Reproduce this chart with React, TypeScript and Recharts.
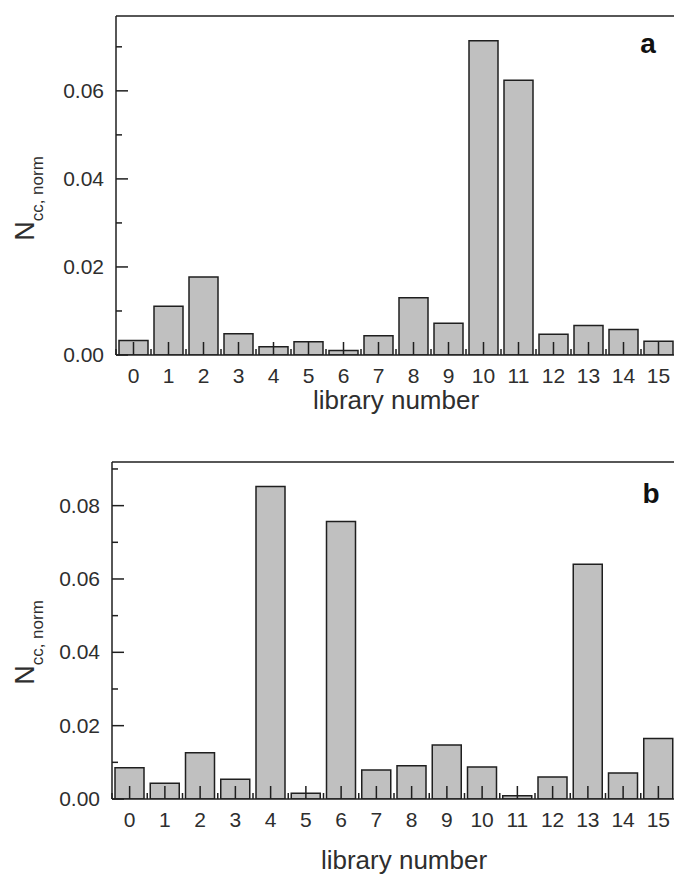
import React from 'react';
import { BarChart, Bar, XAxis, YAxis, ReferenceLine } from 'recharts';

const categories = ['0', '1', '2', '3', '4', '5', '6', '7', '8', '9', '10', '11', '12', '13', '14', '15'];
const valuesA = [0.0033, 0.0111, 0.0177, 0.0048, 0.0019, 0.003, 0.001, 0.0044, 0.013, 0.0072, 0.0714, 0.0624, 0.0047, 0.0067, 0.0058, 0.0031];
const valuesB = [0.0085, 0.0043, 0.0126, 0.0054, 0.0852, 0.0016, 0.0757, 0.0079, 0.0091, 0.0147, 0.0087, 0.0009, 0.006, 0.064, 0.0071, 0.0165];
const yTicksA = [0, 0.01, 0.02, 0.03, 0.04, 0.05, 0.06, 0.07];
const yMajorA = [0, 0.02, 0.04, 0.06];
const yMaxA = 0.077;
const yTicksB = [0, 0.01, 0.02, 0.03, 0.04, 0.05, 0.06, 0.07, 0.08, 0.09];
const yMajorB = [0, 0.02, 0.04, 0.06, 0.08];
const yMaxB = 0.0919;
const xTitle = 'library number';
const yTitleMain = 'N';
const yTitleSub = 'cc, norm';
const panelA = 'a';
const panelB = 'b';

const dataA = categories.map((c, i) => ({ lib: c, value: valuesA[i] }));
const dataB = categories.map((c, i) => ({ lib: c, value: valuesB[i] }));

const FONT = '"Liberation Sans", Arial, Helvetica, sans-serif';
const INK = '#1f1f1f';
const TEXT = '#2e2e2e';
const BAR_FILL = '#c0c0c0';

function makeYTick(major: number[]) {
  return (props: any) => {
    const { x, y, payload } = props;
    const isMajor = major.some((m) => Math.abs(m - payload.value) < 1e-9);
    return (
      <g>
        <line x1={x} y1={y} x2={x + (isMajor ? 12 : 6)} y2={y} stroke={INK} strokeWidth={1.5} />
        {isMajor && (
          <text x={x - 12} y={y} dy={7} textAnchor="end" fontSize={21} fill={TEXT} fontFamily={FONT}>
            {Number(payload.value).toFixed(2)}
          </text>
        )}
      </g>
    );
  };
}

const XTick = (props: any) => {
  const { x, y, payload, index, visibleTicksCount } = props;
  const half = payload && payload.offset ? payload.offset : 17.5;
  const last = visibleTicksCount ? index === visibleTicksCount - 1 : index === categories.length - 1;
  return (
    <g>
      <line x1={x} y1={y} x2={x} y2={y - 13} stroke={INK} strokeWidth={1.5} />
      <line x1={x - half} y1={y} x2={x - half} y2={y - 6} stroke={INK} strokeWidth={1.5} />
      {last && <line x1={x + half} y1={y} x2={x + half} y2={y - 6} stroke={INK} strokeWidth={1.5} />}
      <text x={x} y={y + 28} textAnchor="middle" fontSize={21} fill={TEXT} fontFamily={FONT}>
        {payload.value}
      </text>
    </g>
  );
};

function makeXTitle(dy: number, dx: number) {
  return (p: any) => {
    const vb = p.viewBox || {};
    return (
      <text x={vb.x + vb.width / 2 + dx} y={vb.y + dy} textAnchor="middle" fontSize={26} fill={TEXT} fontFamily={FONT}>
        {xTitle}
      </text>
    );
  };
}

function makePanel(letter: string, dx: number, dy: number) {
  return (p: any) => {
    const vb = p.viewBox || {};
    return (
      <text x={vb.x + vb.width - dx} y={vb.y + dy} textAnchor="middle" fontSize={28} fontWeight="bold" fill="#111" fontFamily={FONT}>
        {letter}
      </text>
    );
  };
}

function makeYTitle(dx: number, dy: number) {
  return (p: any) => {
    const vb = p.viewBox || {};
    const cx = vb.x + dx;
    const cy = vb.y + vb.height / 2 + dy;
    return (
      <text x={cx} y={cy} transform={`rotate(-90, ${cx}, ${cy})`} textAnchor="middle" fill={TEXT} fontFamily={FONT}>
        <tspan fontSize={27}>{yTitleMain}</tspan>
        <tspan fontSize={17} dy={9}>{yTitleSub}</tspan>
      </text>
    );
  };
}

const axisLineStyle = { stroke: INK, strokeWidth: 1.5 };

export default function App() {
  return (
    <div style={{ position: 'absolute', left: 0, top: 0, width: 674, height: 877, overflow: 'hidden', background: '#fff' }}>
      <div style={{ position: 'absolute', left: 0, top: 0 }}>
        <BarChart width={676} height={440} data={dataA} margin={{ top: 16, right: 0, bottom: 0, left: 0 }}>
          <Bar dataKey="value" fill={BAR_FILL} stroke={INK} strokeWidth={1.5} barSize={29} isAnimationActive={false} />
          <ReferenceLine y={yMaxA} stroke={INK} strokeWidth={1.5} ifOverflow="extendDomain" label={makePanel(panelA, 28, 37)} />
          <XAxis
            dataKey="lib"
            height={85}
            interval={0}
            tickSize={0}
            tickMargin={0}
            tickLine={false}
            tick={<XTick />}
            axisLine={axisLineStyle}
            label={makeXTitle(54, 0)}
          />
          <YAxis
            type="number"
            width={116}
            domain={[0, yMaxA]}
            ticks={yTicksA}
            interval={0}
            allowDataOverflow
            tickSize={0}
            tickMargin={0}
            tickLine={false}
            tick={makeYTick(yMajorA)}
            axisLine={axisLineStyle}
            label={makeYTitle(34, 13)}
          />
        </BarChart>
      </div>
      <div style={{ position: 'absolute', left: 0, top: 440 }}>
        <BarChart width={676} height={437} data={dataB} margin={{ top: 22, right: 0, bottom: 0, left: 0 }}>
          <Bar dataKey="value" fill={BAR_FILL} stroke={INK} strokeWidth={1.5} barSize={29} isAnimationActive={false} />
          <ReferenceLine y={yMaxB} stroke={INK} strokeWidth={1.5} ifOverflow="extendDomain" label={makePanel(panelB, 25, 41)} />
          <XAxis
            dataKey="lib"
            height={78}
            interval={0}
            tickSize={0}
            tickMargin={0}
            tickLine={false}
            tick={<XTick />}
            axisLine={axisLineStyle}
            label={makeXTitle(70, 10)}
          />
          <YAxis
            type="number"
            width={112}
            domain={[0, yMaxB]}
            ticks={yTicksB}
            interval={0}
            allowDataOverflow
            tickSize={0}
            tickMargin={0}
            tickLine={false}
            tick={makeYTick(yMajorB)}
            axisLine={axisLineStyle}
            label={makeYTitle(34, 12)}
          />
        </BarChart>
      </div>
    </div>
  );
}
